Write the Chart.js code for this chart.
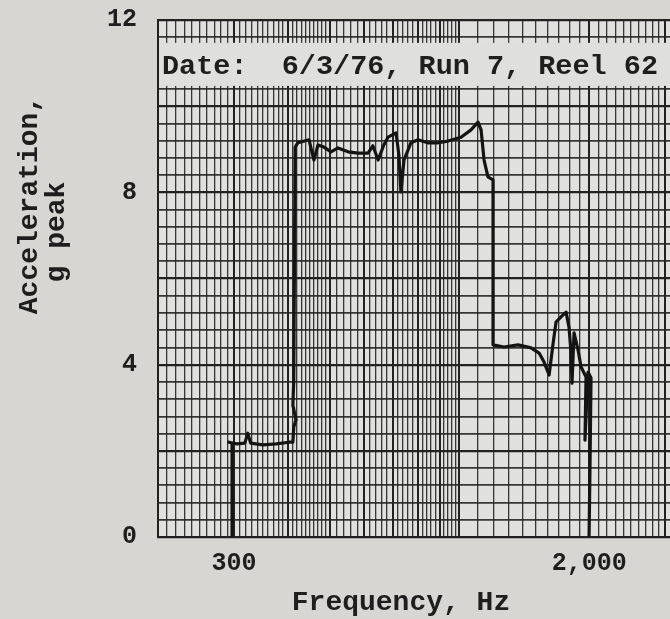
<!DOCTYPE html>
<html>
<head>
<meta charset="utf-8">
<script src="https://cdn.jsdelivr.net/npm/chart.js@4.4.1/dist/chart.umd.min.js"></script>
<style>
  body { margin: 0; background: #d7d6d3; }
  canvas { display: block; }
</style>
</head>
<body>
<canvas id="chart" width="670" height="619"></canvas>
<script>
// trace: frequency (Hz) and acceleration (g peak)
const freqHz = [297, 297, 292, 305, 318, 323, 328, 350, 376, 403,
  411, 413, 418, 411, 413, 416, 422, 429, 448, 460,
  470, 485, 504, 523, 552, 582, 614, 630, 648, 668,
  683, 713, 724, 732, 744, 772, 802, 845, 892, 941,
  1009, 1064, 1105, 1123, 1141, 1165, 1197, 1197, 1270, 1368,
  1467, 1531, 1572, 1615, 1650, 1676, 1721, 1768, 1796, 1816,
  1825, 1845, 1885, 1915, 1967, 1956, 1988, 2020, 2010, 1999];
const accelG = [0, 2.18, 2.2, 2.16, 2.18, 2.41, 2.18, 2.14, 2.16, 2.2,
  2.2, 2.55, 2.72, 3.06, 3.64, 9.05, 9.15, 9.17, 9.22, 8.75,
  9.10, 9.05, 8.94, 9.03, 8.94, 8.91, 8.91, 9.08, 8.75, 9.10,
  9.28, 9.38, 8.87, 8.01, 8.75, 9.15, 9.22, 9.15, 9.15, 9.19,
  9.28, 9.45, 9.63, 9.45, 8.75, 8.36, 8.29, 4.46, 4.41, 4.46,
  4.39, 4.27, 4.06, 3.76, 4.50, 4.99, 5.11, 5.22, 4.87, 4.27,
  3.57, 4.74, 4.34, 3.95, 3.71, 2.25, 3.83, 3.69, 1.79, 0];

const yTickLabels = [0, 4, 8, 12];
const xTickLabels = [300, 2000];
const headerText = 'Date:  6/3/76, Run 7, Reel 62';
const xTitle = 'Frequency, Hz';
const yTitle = ['Acceleration,', 'g peak'];

// rulings of the log graph paper
const xGrid = [];
for (let f = 200; f < 500; f += 10) xGrid.push(f);
for (let f = 500; f < 1000; f += 20) xGrid.push(f);
for (let f = 1000; f <= 3000; f += 100) xGrid.push(f);
const yGrid = [];
for (let i = 0; i <= 30; i++) yGrid.push(Math.round(i * 4) / 10);

const mono = "'Liberation Mono', 'Courier New', monospace";
const ink = '#222222';

function xBold(v) {
  return v < 1000 ? v % 100 === 0 : v % 1000 === 0;
}
function yBold(v) {
  return Math.round(v * 10) % 20 === 0;
}

const paper = {
  id: 'paper',
  beforeDraw(chart) {
    const { ctx, chartArea: a } = chart;
    ctx.save();
    ctx.fillStyle = '#d7d6d3';
    ctx.fillRect(0, 0, chart.width, chart.height);
    ctx.fillStyle = '#e0e0de';
    ctx.fillRect(a.left, a.top, a.right - a.left, a.bottom - a.top);
    ctx.restore();
  },
  beforeDatasetsDraw(chart) {
    const { ctx, chartArea: a, scales } = chart;
    const top = scales.y.getPixelForValue(11.47);
    const bot = scales.y.getPixelForValue(10.47);
    ctx.save();
    ctx.fillStyle = '#dfdfdd';
    ctx.fillRect(a.left, top, a.right - a.left, bot - top);
    ctx.strokeStyle = ink;
    ctx.lineWidth = 2;
    ctx.beginPath();
    ctx.moveTo(a.left, a.top);
    ctx.lineTo(a.left, a.bottom);
    ctx.stroke();
    ctx.fillStyle = '#1e1e1e';
    ctx.font = 'bold 28.5px ' + mono;
    ctx.textBaseline = 'middle';
    ctx.textAlign = 'left';
    ctx.fillText(headerText, a.left + 4, (top + bot) / 2 + 2);
    ctx.restore();
  },
  afterDraw(chart) {
    const { ctx } = chart;
    ctx.save();
    ctx.fillStyle = '#1e1e1e';
    ctx.font = 'bold 28px ' + mono;
    ctx.textAlign = 'center';
    ctx.textBaseline = 'middle';
    ctx.fillText(xTitle, 401, 603);
    ctx.translate(30, 205);
    ctx.rotate(-Math.PI / 2);
    ctx.fillText(yTitle[0], 0, 0);
    ctx.fillText(yTitle[1], -27, 27);
    ctx.restore();
  }
};

const points = freqHz.map((f, i) => ({ x: f, y: accelG[i] }));

new Chart(document.getElementById('chart'), {
  type: 'line',
  data: {
    datasets: [{
      data: points,
      borderColor: '#141414',
      borderWidth: 3.2,
      pointRadius: 0,
      tension: 0,
      fill: false,
      borderJoinStyle: 'round',
      borderCapStyle: 'round'
    }]
  },
  options: {
    responsive: false,
    animation: false,
    devicePixelRatio: 1,
    layout: { padding: { top: 20, right: 0, bottom: 0, left: 0 } },
    plugins: { legend: { display: false }, tooltip: { enabled: false } },
    scales: {
      x: {
        type: 'logarithmic',
        min: 200,
        max: 3080,
        afterBuildTicks: s => { s.ticks = xGrid.map(v => ({ value: v })); },
        afterFit: s => { s.height = 82; s.paddingLeft = 0; s.paddingRight = 0; },
        ticks: {
          autoSkip: false,
          maxRotation: 0,
          padding: 12,
          color: '#1e1e1e',
          font: { family: mono, size: 25, weight: 'bold' },
          callback: v => xTickLabels.includes(v) ? v.toLocaleString('en-US') : ''
        },
        grid: {
          drawTicks: false,
          color: c => xBold(c.tick.value) ? '#222222' : 'rgba(35,35,35,0.9)',
          lineWidth: c => xBold(c.tick.value) ? 2 : 1.3
        },
        border: { color: ink, width: 2 }
      },
      y: {
        min: 0,
        max: 12,
        afterBuildTicks: s => { s.ticks = yGrid.map(v => ({ value: v })); },
        afterFit: s => { s.width = 158; s.paddingTop = 0; s.paddingBottom = 0; },
        ticks: {
          autoSkip: false,
          padding: 21,
          color: '#1e1e1e',
          font: { family: mono, size: 25, weight: 'bold' },
          callback: v => yTickLabels.includes(Math.round(v * 10) / 10) ? String(Math.round(v)) : ''
        },
        grid: {
          drawTicks: false,
          color: c => yBold(c.tick.value) ? '#222222' : 'rgba(35,35,35,0.9)',
          lineWidth: c => yBold(c.tick.value) ? 2.2 : 1.7
        },
        border: { color: ink, width: 2 }
      }
    }
  },
  plugins: [paper]
});
</script>
</body>
</html>
